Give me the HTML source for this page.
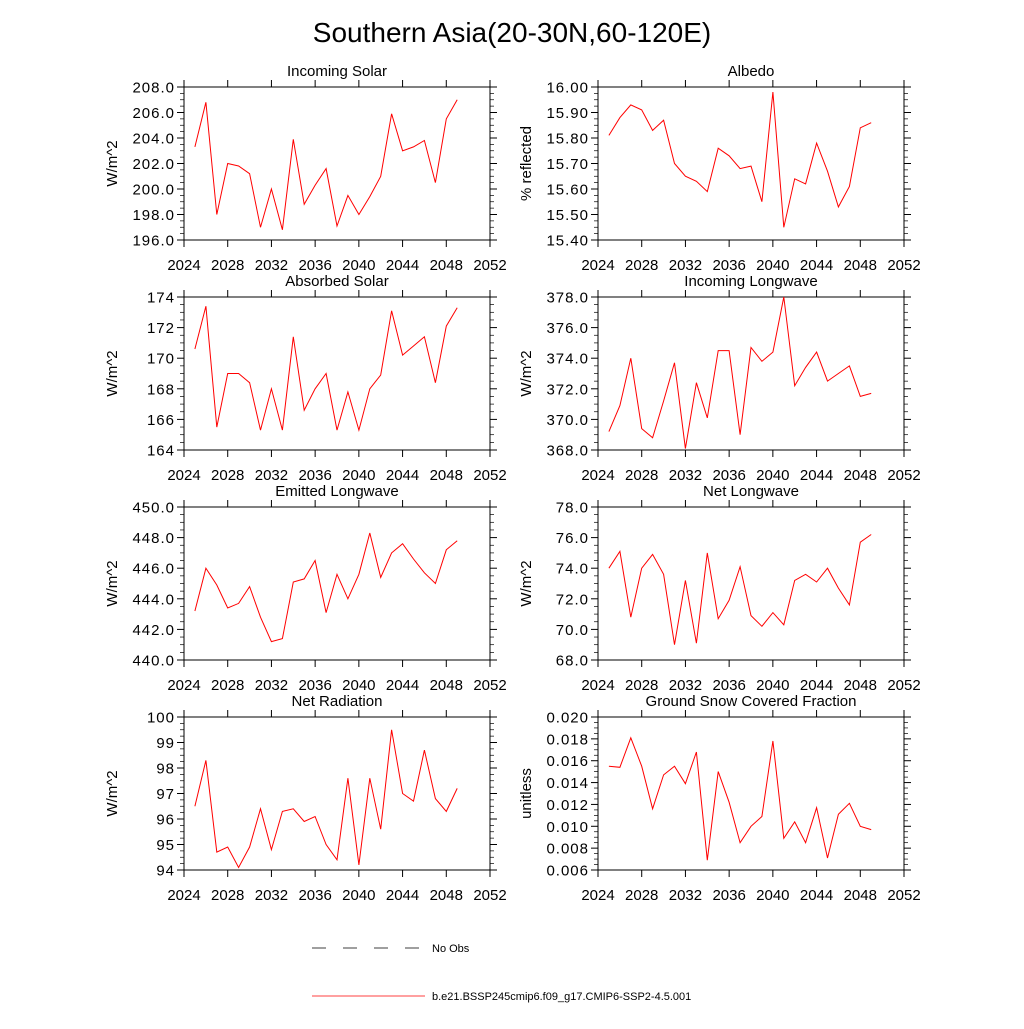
<!DOCTYPE html>
<html><head><meta charset="utf-8"><style>
body{margin:0;background:#fff;width:1024px;height:1024px;overflow:hidden}
svg text{font-family:"Liberation Sans",sans-serif;fill:#000}
</style></head><body>
<svg id="chart" width="1024" height="1024" xmlns="http://www.w3.org/2000/svg">
<text x="512" y="42" font-size="28" text-anchor="middle">Southern Asia(20-30N,60-120E)</text>
<g>
<line x1="312" y1="948" x2="425" y2="948" stroke="#000" stroke-width="0.8" stroke-dasharray="14,17"/>
<text x="432" y="952" font-size="11">No Obs</text>
<line x1="312" y1="996" x2="425" y2="996" stroke="#f00" stroke-width="0.8"/>
<text x="432" y="1000" font-size="11">b.e21.BSSP245cmip6.f09_g17.CMIP6-SSP2-4.5.001</text>
</g>
</svg>
<script>
const years=[2025,2026,2027,2028,2029,2030,2031,2032,2033,2034,2035,2036,2037,2038,2039,2040,2041,2042,2043,2044,2045,2046,2047,2048,2049];
const xTicks=[2024,2028,2032,2036,2040,2044,2048,2052];
const incomingSolar=[203.3,206.8,198.0,202.0,201.8,201.2,197.0,200.0,196.8,203.9,198.8,200.3,201.6,197.1,199.5,198.0,199.4,201.0,205.9,203.0,203.3,203.8,200.5,205.5,207.0];
const albedo=[15.81,15.88,15.93,15.91,15.83,15.87,15.70,15.65,15.63,15.59,15.76,15.73,15.68,15.69,15.55,15.98,15.45,15.64,15.62,15.78,15.67,15.53,15.61,15.84,15.86];
const absorbedSolar=[170.6,173.4,165.5,169.0,169.0,168.4,165.3,168.0,165.3,171.4,166.6,168.0,169.0,165.3,167.8,165.3,168.0,168.9,173.1,170.2,170.8,171.4,168.4,172.1,173.3];
const incomingLW=[369.2,370.9,374.0,369.4,368.8,371.2,373.7,368.1,372.4,370.1,374.5,374.5,369.0,374.7,373.8,374.4,378.0,372.2,373.4,374.4,372.5,373.0,373.5,371.5,371.7];
const emittedLW=[443.2,446.0,444.9,443.4,443.7,444.8,442.8,441.2,441.4,445.1,445.3,446.5,443.1,445.6,444.0,445.6,448.3,445.4,447.0,447.6,446.6,445.7,445.0,447.2,447.8];
const netLW=[74.0,75.1,70.8,74.0,74.9,73.6,69.0,73.2,69.1,75.0,70.7,71.9,74.1,70.9,70.2,71.1,70.3,73.2,73.6,73.1,74.0,72.7,71.6,75.7,76.2];
const netRad=[96.5,98.3,94.7,94.9,94.1,94.9,96.4,94.8,96.3,96.4,95.9,96.1,95.0,94.4,97.6,94.2,97.6,95.6,99.5,97.0,96.7,98.7,96.8,96.3,97.2];
const snowFrac=[0.0155,0.0154,0.0181,0.0155,0.0116,0.0147,0.0155,0.0139,0.0168,0.0069,0.0150,0.0122,0.0085,0.0100,0.0109,0.0178,0.0089,0.0104,0.0085,0.0117,0.0071,0.0111,0.0121,0.0100,0.0097];

const panels=[
 {name:'incoming-solar',title:'Incoming Solar',yl:'W/m^2',d:incomingSolar,min:196,max:208,step:2,dec:1,col:0,row:0},
 {name:'albedo',title:'Albedo',yl:'% reflected',d:albedo,min:15.4,max:16.0,step:0.1,dec:2,col:1,row:0},
 {name:'absorbed-solar',title:'Absorbed Solar',yl:'W/m^2',d:absorbedSolar,min:164,max:174,step:2,dec:0,col:0,row:1},
 {name:'incoming-longwave',title:'Incoming Longwave',yl:'W/m^2',d:incomingLW,min:368,max:378,step:2,dec:1,col:1,row:1},
 {name:'emitted-longwave',title:'Emitted Longwave',yl:'W/m^2',d:emittedLW,min:440,max:450,step:2,dec:1,col:0,row:2},
 {name:'net-longwave',title:'Net Longwave',yl:'W/m^2',d:netLW,min:68,max:78,step:2,dec:1,col:1,row:2},
 {name:'net-radiation',title:'Net Radiation',yl:'W/m^2',d:netRad,min:94,max:100,step:1,dec:0,col:0,row:3},
 {name:'snow-fraction',title:'Ground Snow Covered Fraction',yl:'unitless',d:snowFrac,min:0.006,max:0.020,step:0.002,dec:3,col:1,row:3}
];
const svg=document.getElementById('chart');
const NS='http://www.w3.org/2000/svg';
function mk(tag,attrs,parent){const e=document.createElementNS(NS,tag);for(const k in attrs)e.setAttribute(k,attrs[k]);parent.appendChild(e);return e;}
const lefts=[184,598], tops=[87,297,507,717], W=306, H=153;
panels.forEach(p=>{
 const x0=lefts[p.col], y0=tops[p.row], x1=x0+W, y1=y0+H;
 const g=mk('g',{},svg);
 
 
 const xs=v=>x0+(v-2024)/(2052-2024)*W;
 const ys=v=>y1-(v-p.min)/(p.max-p.min)*H;
 const fr=mk('rect',{x:x0,y:y0,width:W,height:H,fill:'none',stroke:'#000','stroke-width':1},g);
 
 
 xTicks.forEach(t=>{
  const x=xs(t);
  mk('line',{x1:x,y1:y1,x2:x,y2:y1+7,stroke:'#000'},g);
  mk('line',{x1:x,y1:y0,x2:x,y2:y0-7,stroke:'#000'},g);
  const tx=mk('text',{x:x,y:y1+30,'font-size':15,'text-anchor':'middle'},g);
  tx.textContent=t;
  
  
 });
 const n=Math.round((p.max-p.min)/p.step);
 for(let i=0;i<=n;i++){
  const v=p.min+i*p.step, y=ys(v);
  mk('line',{x1:x0,y1:y,x2:x0-7,y2:y,stroke:'#000'},g);
  mk('line',{x1:x1,y1:y,x2:x1+7,y2:y,stroke:'#000'},g);
  const tx=mk('text',{x:x0-9,y:y+5.5,'font-size':15,'text-anchor':'end','letter-spacing':1},g);
  tx.textContent=v.toFixed(p.dec);
  
  
  if(i<n){for(let k=1;k<4;k++){const ym=ys(v+p.step*k/4);
   mk('line',{x1:x0,y1:ym,x2:x0-4,y2:ym,stroke:'#000','stroke-width':0.7},g);
   mk('line',{x1:x1,y1:ym,x2:x1+4,y2:ym,stroke:'#000','stroke-width':0.7},g);}}
 }
 const tt=mk('text',{x:x0+W/2,y:y0-11,'font-size':15,'text-anchor':'middle'},g);
 tt.textContent=p.title;
 
 
 const yl=mk('text',{x:0,y:0,'font-size':15,'text-anchor':'middle',transform:`translate(${x0-67},${y0+H/2}) rotate(-90)`},g);
 yl.textContent=p.yl;
 
 
 const pts=p.d.map((v,i)=>xs(years[i]).toFixed(1)+','+ys(v).toFixed(1)).join(' ');
 const ln=mk('polyline',{points:pts,fill:'none',stroke:'#f00','stroke-width':1},g);
 
 
});
</script>
</body></html>
